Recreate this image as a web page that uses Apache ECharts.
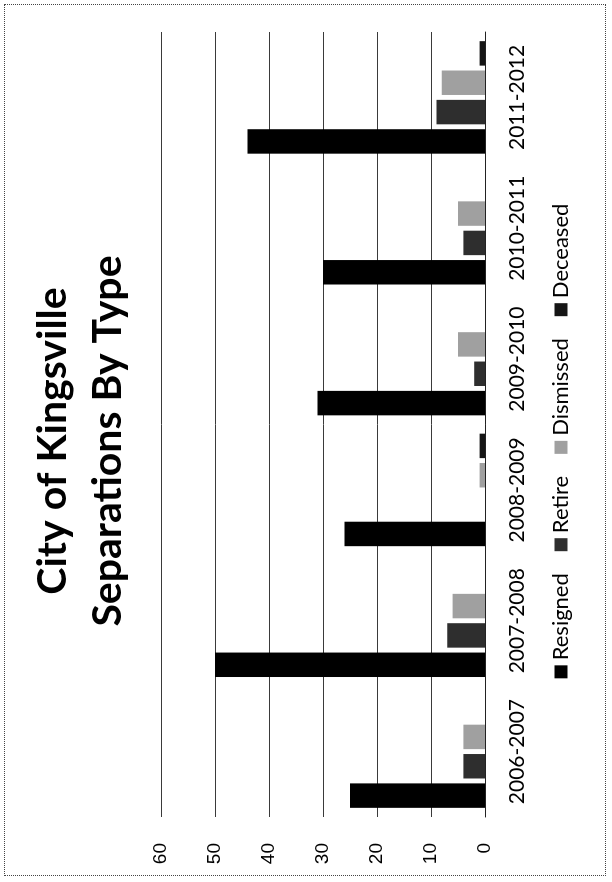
<!DOCTYPE html>
<html>
<head>
<meta charset="utf-8">
<script src="https://cdn.jsdelivr.net/npm/echarts@6/dist/echarts.min.js"></script>
<style>
  html, body { margin: 0; padding: 0; background: #fff; }
  #frame {
    position: absolute; left: 4px; top: 4px; width: 602px; height: 872px;
    border: 1px dotted #444; box-sizing: border-box;
  }
  /* chart is laid out landscape, then turned a quarter left like the scan */
  #chart {
    position: absolute; left: 0; top: 0; width: 882px; height: 612px;
    transform-origin: 0 0;
    transform: translateY(882px) rotate(-90deg);
  }
</style>
</head>
<body>
<div id="frame"></div>
<div id="chart"></div>
<script>
// 分类与数据
const years = ['2006-2007', '2007-2008', '2008-2009', '2009-2010', '2010-2011', '2011-2012'];
const resigned = [25, 50, 26, 31, 30, 44];
const retire = [4, 7, 0, 2, 4, 9];
const dismissed = [4, 6, 1, 5, 5, 8];
const deceased = [0, 0, 1, 0, 0, 1];
const valueTicks = [0, 10, 20, 30, 40, 50, 60];

const chart = echarts.init(document.getElementById('chart'));

function bar(name, data, color) {
  return {
    name: name,
    type: 'bar',
    data: data,
    barGap: '20%',
    barCategoryGap: '14%',
    itemStyle: { color: color }
  };
}

const option = {
  backgroundColor: 'transparent',
  animation: false,
  title: {
    text: 'City of Kingsville\nSeparations By Type',
    left: 'center',
    top: 20,
    textStyle: {
      fontFamily: 'Lato',
      fontWeight: 'bold',
      fontSize: 41,
      lineHeight: 55,
      color: '#000'
    }
  },
  legend: {
    bottom: 35,
    left: 'center',
    itemWidth: 13,
    itemHeight: 13,
    itemGap: 22,
    icon: 'rect',
    textStyle: { fontFamily: 'Lato', fontSize: 22, color: '#000' },
    data: ['Resigned', 'Retire', 'Dismissed', 'Deceased']
  },
  grid: { left: 65, right: 32, top: 161, bottom: 127 },
  xAxis: {
    type: 'category',
    data: years,
    axisLine: { lineStyle: { color: '#222', width: 1 } },
    axisTick: { show: false },
    axisLabel: { interval: 0, margin: 22, fontFamily: 'Lato', fontSize: 21, color: '#000' }
  },
  yAxis: {
    type: 'value',
    min: valueTicks[0],
    max: valueTicks[valueTicks.length - 1],
    interval: 10,
    axisLine: { show: false },
    axisTick: { show: false },
    axisLabel: { margin: 26, fontFamily: 'Liberation Sans', fontSize: 19, color: '#000' },
    splitLine: { lineStyle: { color: '#3a3a3a', width: 1 } }
  },
  series: [
    bar('Resigned', resigned, '#000000'),
    bar('Retire', retire, '#2e2e2e'),
    bar('Dismissed', dismissed, '#a0a0a0'),
    bar('Deceased', deceased, '#151515')
  ]
};

chart.setOption(option);
</script>
</body>
</html>
